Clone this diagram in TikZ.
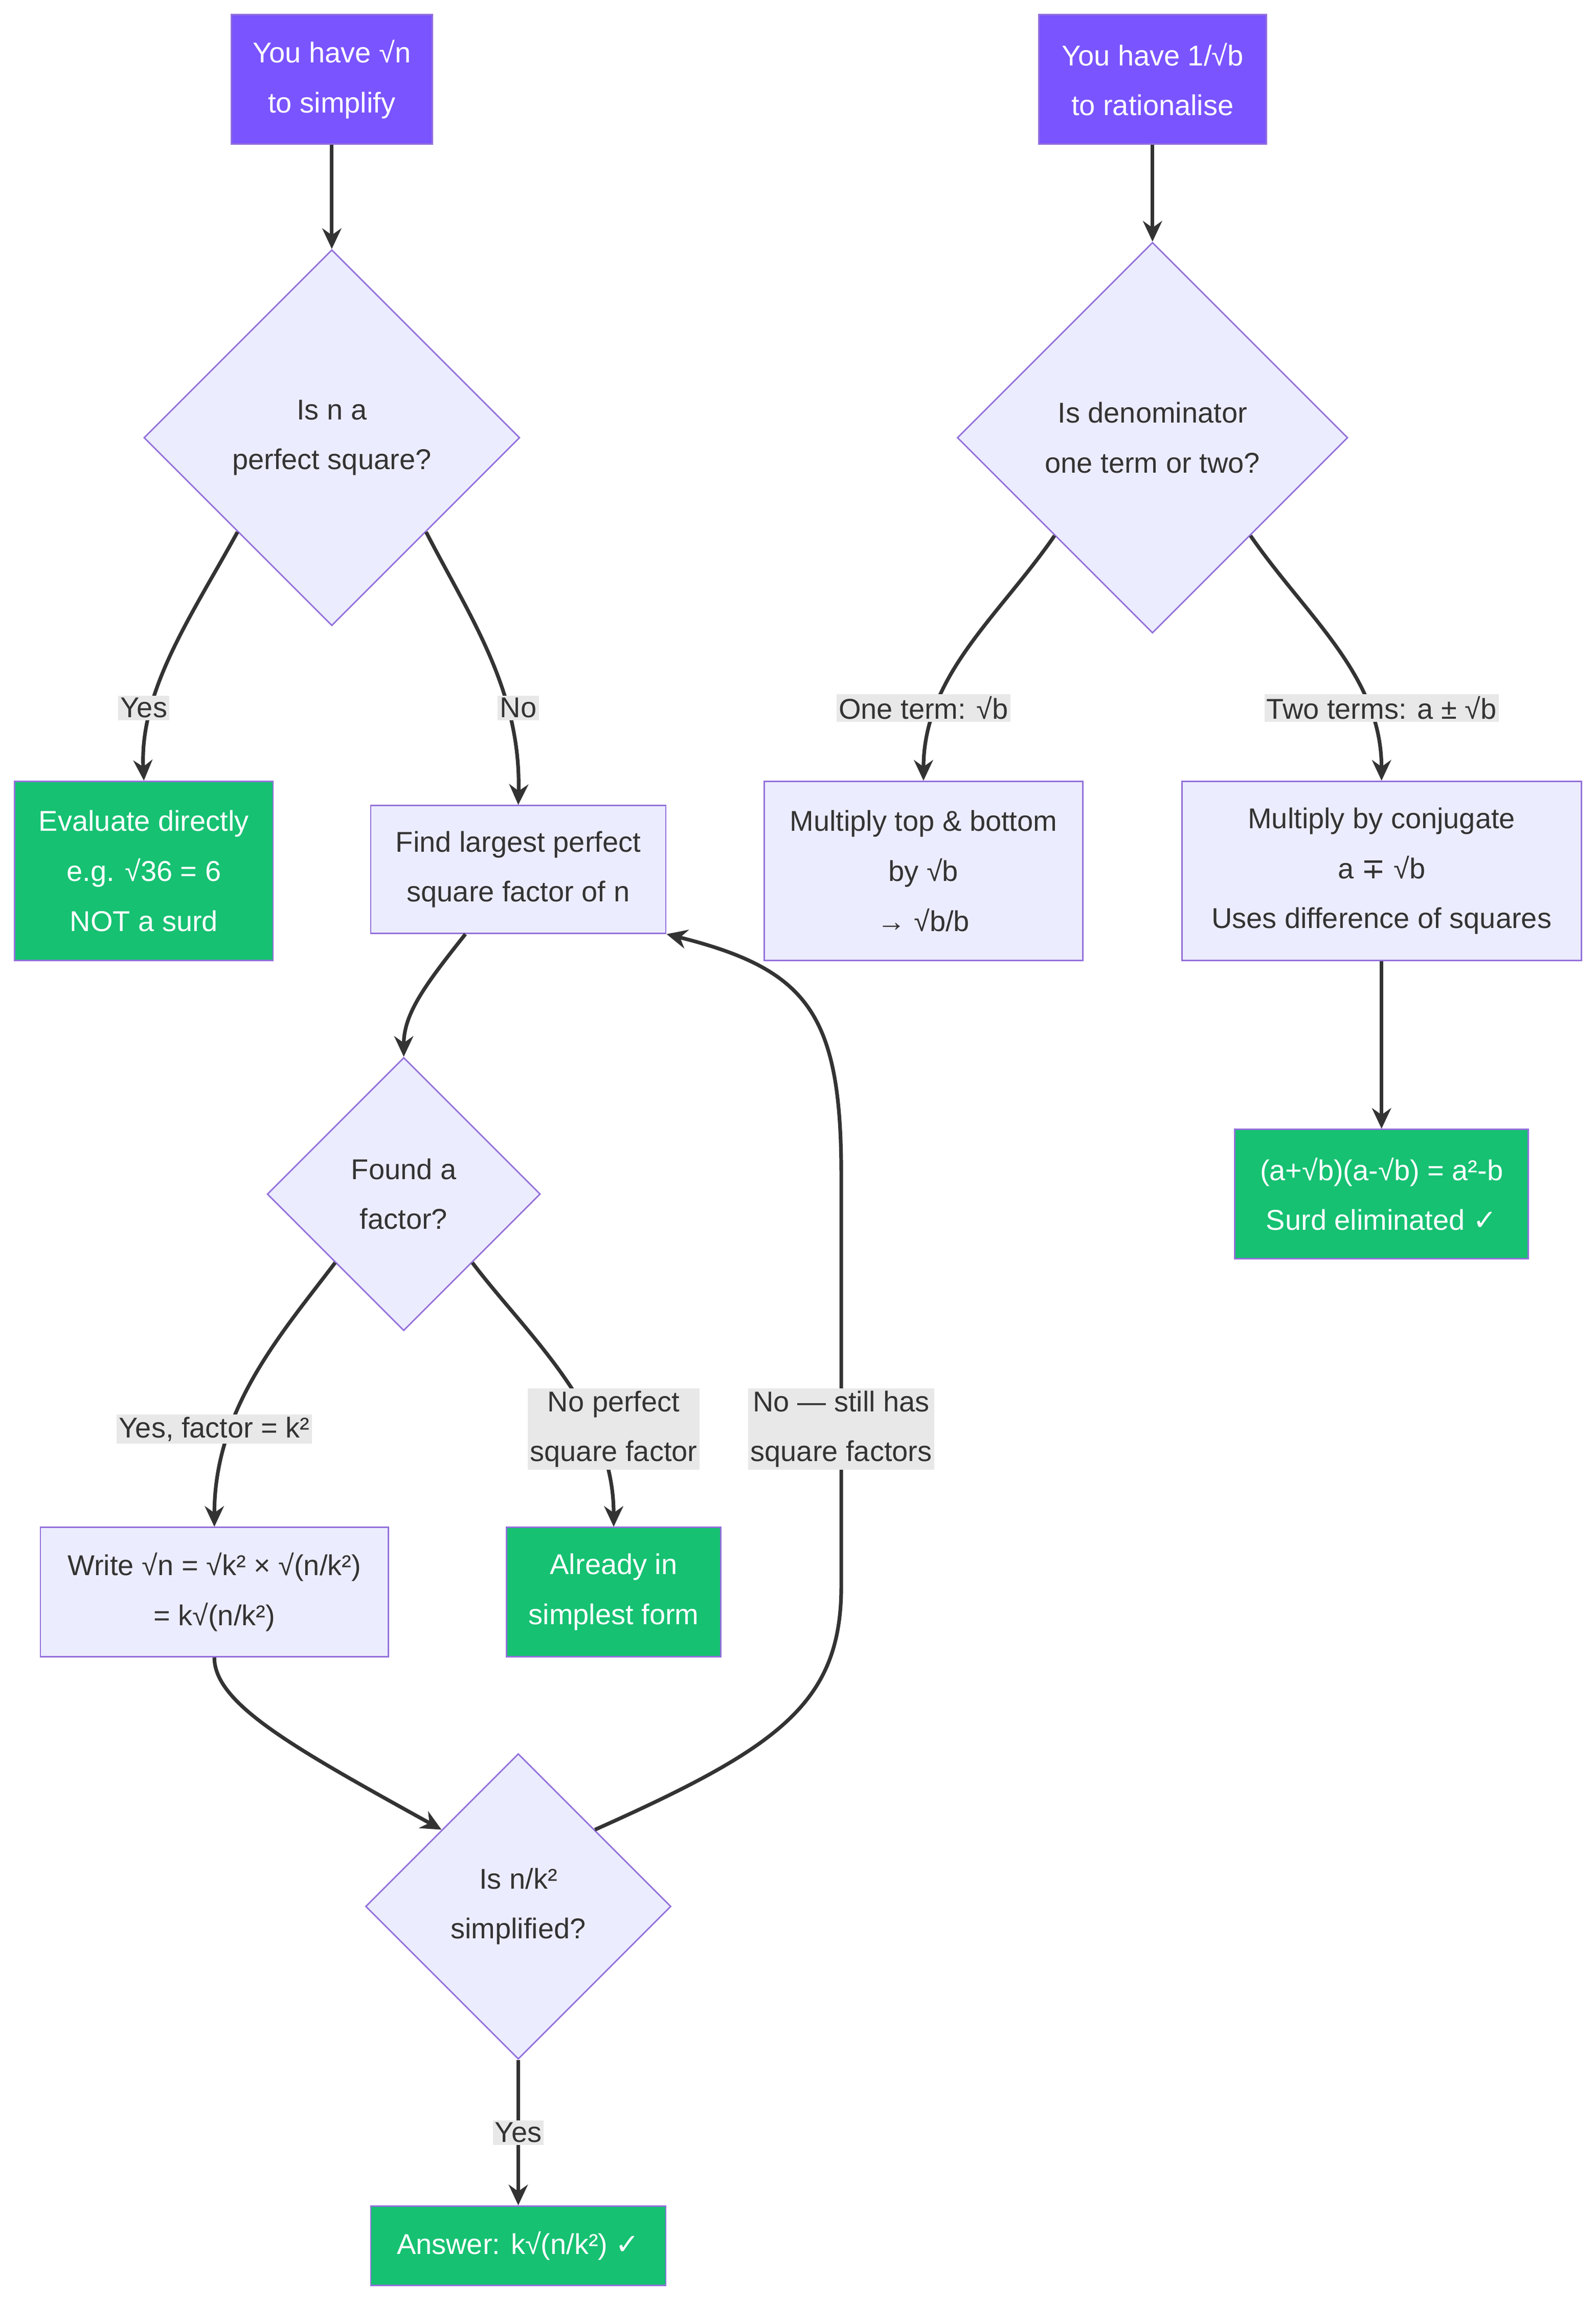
\documentclass[tikz,border=0pt]{standalone}
\usepackage{fontspec}
\setmainfont{Liberation Sans}
\newfontfamily\djv{DejaVu Sans}
\usetikzlibrary{shapes.geometric,arrows.meta}
\definecolor{startc}{RGB}{122,84,255}
\definecolor{greenc}{RGB}{22,193,114}
\definecolor{procc}{RGB}{236,236,255}
\definecolor{edgec}{RGB}{147,112,219}
\definecolor{linec}{RGB}{51,51,51}
\definecolor{lblc}{RGB}{232,232,232}
\definecolor{txtc}{RGB}{51,51,51}
\begin{document}
\begin{tikzpicture}[x=1pt,y=-1pt,
  every node/.style={font=\fontsize{19.5}{34}\selectfont,align=center,text=txtc},
  startbox/.style={rectangle,fill=startc,draw=edgec,line width=1pt,text=white,inner sep=0pt},
  procbox/.style={rectangle,fill=procc,draw=edgec,line width=1pt,inner sep=0pt},
  endbox/.style={rectangle,fill=greenc,draw=edgec,line width=1pt,text=white,inner sep=0pt},
  decis/.style={diamond,aspect=1,fill=procc,draw=edgec,line width=1pt,inner sep=0pt},
  lbl/.style={fill=lblc,inner sep=1.5pt,text=txtc},
  conn/.style={draw=linec,line width=2.5pt,-{Stealth[length=14pt,width=13pt]}}]
\useasboundingbox (0,0) rectangle (1087,1566);
\node[startbox,minimum width=137,minimum height=88] (a) at (226,54) {You have √n\\to simplify};
\node[startbox,minimum width=155,minimum height=88] (b) at (785,54) {You have 1/√b\\to rationalise};
\node[decis,minimum width=256,minimum height=256] (d1) at (226,298) {Is n a\\perfect square?};
\node[decis,minimum width=266,minimum height=266] (d2) at (785,298) {Is denominator\\one term or two?};
\node[endbox,minimum width=176,minimum height=122] (ev) at (98,593) {Evaluate directly\\e.g. √36 = 6\\NOT a surd};
\node[procbox,minimum width=201,minimum height=87] (fl) at (353,592) {Find largest perfect\\square factor of n};
\node[procbox,minimum width=217,minimum height=122] (mt) at (629,593) {Multiply top \& bottom\\by √b\\→ √b/b};
\node[procbox,minimum width=272,minimum height=122] (mc) at (941,593) {Multiply by conjugate\\a {\djv ∓} √b\\Uses difference of squares};
\node[endbox,minimum width=200,minimum height=88] (se) at (941,813) {(a+√b)(a-√b) = a²-b\\Surd eliminated {\djv ✓}};
\node[decis,minimum width=186,minimum height=186] (d3) at (275,813) {Found a\\factor?};
\node[procbox,minimum width=237,minimum height=88] (wr) at (146,1084) {Write √n = √k² × √(n/k²)\\= k√(n/k²)};
\node[endbox,minimum width=146,minimum height=88] (al) at (418,1084) {Already in\\simplest form};
\node[decis,minimum width=208,minimum height=208] (d4) at (353,1298) {Is n/k²\\simplified?};
\node[endbox,minimum width=201,minimum height=54] (an) at (353,1529) {Answer: k√(n/k²) {\djv ✓}};
\coordinate (lp1) at (573,973);
\draw[conn] (a) -- (d1);
\draw[conn] (b) -- (d2);
\draw[conn] (d1.south west) .. controls (130,420) and (95,470) .. (ev.north);
\draw[conn] (d1.south east) .. controls (320,420) and (355,470) .. (fl.north);
\draw[conn] (d2.south west) .. controls (680,420) and (629,460) .. (mt.north);
\draw[conn] (d2.south east) .. controls (890,420) and (941,460) .. (mc.north);
\draw[conn] (mc) -- (se);
\draw[conn] (fl.south) ++(-36,0) .. controls (290,670) and (275,690) .. (d3.north);
\draw[conn] (d3.south west) .. controls (190,910) and (146,960) .. (wr.north);
\draw[conn] (d3.south east) .. controls (360,910) and (418,960) .. (al.north);
\draw[conn] (wr.south) .. controls (146,1160) and (200,1190) .. (d4.north west);
\draw[conn] (d4) -- (an);
\draw[conn] (d4.north east) .. controls (530,1190) and (573,1160) .. (573,1080) -- (lp1) -- (573,800) .. controls (573,690) and (550,660) .. (fl.south east);
\node[lbl] at (98,482) {Yes};
\node[lbl] at (353,482) {No};
\node[lbl] at (629,482) {One term: √b};
\node[lbl] at (941,482) {Two terms: a ± √b};
\node[lbl] at (146,973) {Yes, factor = k²};
\node[lbl] at (418,973) {No perfect\\square factor};
\node[lbl] at (lp1) {No — still has\\square factors};
\node[lbl] at (353,1452) {Yes};
\end{tikzpicture}
\end{document}
